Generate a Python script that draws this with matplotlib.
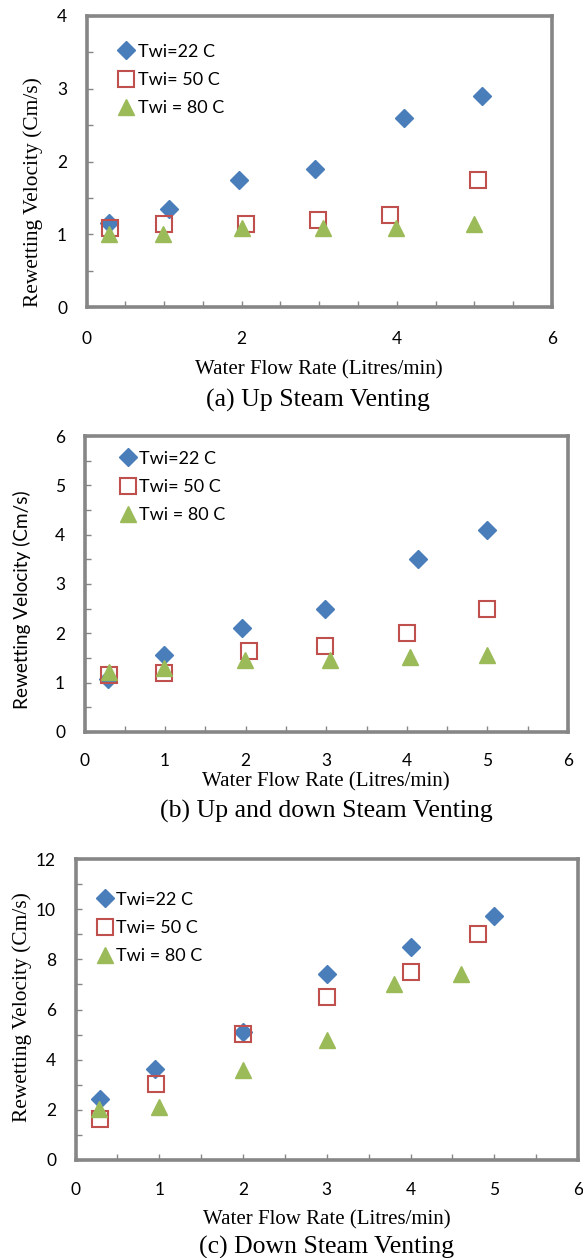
import matplotlib
matplotlib.use('Agg')
import matplotlib.pyplot as plt
from matplotlib.ticker import MultipleLocator

# (a) Up steam venting
a_x22 = [0.29, 1.06, 1.96, 2.94, 4.09, 5.10]
a_y22 = [1.15, 1.35, 1.75, 1.90, 2.60, 2.90]
a_x50 = [0.30, 1.00, 2.05, 2.99, 3.91, 5.04]
a_y50 = [1.09, 1.14, 1.14, 1.19, 1.27, 1.74]
a_x80 = [0.29, 0.99, 2.00, 3.05, 3.99, 4.99]
a_y80 = [1.00, 1.00, 1.09, 1.09, 1.09, 1.14]

# (b) Up and down steam venting
b_x22 = [0.29, 0.99, 1.96, 2.99, 4.14, 4.99]
b_y22 = [1.08, 1.57, 2.10, 2.50, 3.50, 4.10]
b_x50 = [0.30, 0.99, 2.04, 2.99, 4.00, 5.00]
b_y50 = [1.15, 1.20, 1.65, 1.75, 2.00, 2.50]
b_x80 = [0.30, 0.99, 1.99, 3.05, 4.04, 4.99]
b_y80 = [1.21, 1.30, 1.45, 1.45, 1.53, 1.57]

# (c) Down steam venting
c_x22 = [0.29, 0.95, 2.00, 3.00, 4.00, 5.00]
c_y22 = [2.43, 3.63, 5.12, 7.41, 8.51, 9.71]
c_x50 = [0.29, 0.96, 2.00, 3.00, 4.00, 4.80]
c_y50 = [1.64, 3.03, 5.01, 6.51, 7.51, 9.01]
c_x80 = [0.28, 1.00, 2.00, 3.00, 3.80, 4.60]
c_y80 = [2.04, 2.13, 3.60, 4.80, 7.01, 7.40]

labels = ['Twi=22 C', 'Twi= 50 C', 'Twi = 80 C']
xlabel = 'Water Flow Rate (Litres/min)'
ylabel = 'Rewetting Velocity (Cm/s)'
titles = ['(a) Up Steam Venting', '(b) Up and down Steam Venting', '(c) Down Steam Venting']

W, H = 583, 1258
fig = plt.figure(figsize=(W / 100, H / 100), dpi=100)
sans = ['Lato', 'DejaVu Sans']
serif = ['Liberation Serif', 'DejaVu Serif']
grey = '#868686'


def box(l, r, t, b):
    return [l / W, 1 - b / H, (r - l) / W, (b - t) / H]


def panel(rect, xs, ys, ylim, ymaj, ymin, xmaj, leg_anchor, xpad, ylab_sans,
          ylab_pos, xlab_pos, title_pos, title):
    ax = fig.add_axes(rect)
    ax.plot(xs[0], ys[0], 'D', ms=9.5, color='#4a7ebb', mec='#4a7ebb', ls='none', label=labels[0])
    ax.plot(xs[1], ys[1], 's', ms=12, mfc='none', mec='#c0504d', mew=1.5, ls='none', label=labels[1])
    ax.plot(xs[2], ys[2], '^', ms=12, color='#9bbb59', mec='#9bbb59', ls='none', label=labels[2])
    ax.set_xlim(0, 6)
    ax.set_ylim(0, ylim)
    ax.xaxis.set_major_locator(MultipleLocator(xmaj))
    ax.xaxis.set_minor_locator(MultipleLocator(0.5))
    ax.yaxis.set_major_locator(MultipleLocator(ymaj))
    ax.yaxis.set_minor_locator(MultipleLocator(ymin))
    for s in ax.spines.values():
        s.set_color(grey)
        s.set_linewidth(2.6)
    ax.tick_params(which='both', direction='in', color=grey, length=4, width=1)
    ax.tick_params(axis='x', pad=xpad, labelsize=12.5)
    ax.tick_params(axis='y', pad=14, labelsize=12.5)
    for t in ax.get_xticklabels() + ax.get_yticklabels():
        t.set_family(sans)
    ax.legend(loc='upper left', bbox_to_anchor=leg_anchor, frameon=False,
              prop={'family': sans, 'size': 13}, handletextpad=0.0,
              handlelength=1.3, labelspacing=0.68, borderaxespad=0)
    if ylab_sans:
        fig.text(ylab_pos[0] / W, 1 - ylab_pos[1] / H, ylabel, rotation=90,
                 ha='center', va='center', family=sans, fontsize=13.7)
    else:
        fig.text(ylab_pos[0] / W, 1 - ylab_pos[1] / H, ylabel, rotation=90,
                 ha='center', va='center', family=serif, fontsize=15.4)
    fig.text(xlab_pos[0] / W, 1 - xlab_pos[1] / H, xlabel, ha='center', va='center',
             family=serif, fontsize=15)
    fig.text(title_pos[0] / W, 1 - title_pos[1] / H, title, ha='center', va='center',
             family=serif, fontsize=18.5)
    return ax


panel(box(86.5, 552, 16, 307), [a_x22, a_x50, a_x80], [a_y22, a_y50, a_y80],
      4, 1, 0.5, 2, (0.045, 0.93), 17, False, (33, 192), (319, 370), (318, 400), titles[0])
panel(box(84.5, 568, 436, 732), [b_x22, b_x50, b_x80], [b_y22, b_y50, b_y80],
      6, 1, 0.5, 1, (0.05, 0.975), 15, True, (22, 600), (326, 782), (326, 811), titles[1])
panel(box(75.5, 578, 859, 1160), [c_x22, c_x50, c_x80], [c_y22, c_y50, c_y80],
      12, 2, 1, 1, (0.02, 0.915), 16, False, (22, 1007), (327, 1220), (327, 1247), titles[2])

fig.savefig('out.png', dpi=100)
